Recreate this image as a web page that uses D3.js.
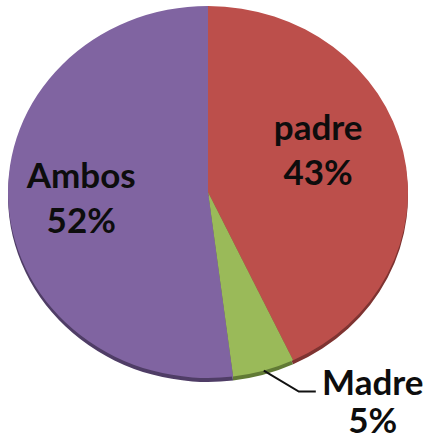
<!DOCTYPE html>
<html>
<head>
<meta charset="utf-8">
<script src="https://cdn.jsdelivr.net/npm/d3@7/dist/d3.min.js"></script>
<style>
  body { margin: 0; background: #fff; }
  text { font-family: Lato, "Noto Sans", sans-serif; font-weight: bold; fill: #0d0d0d; }
</style>
</head>
<body>
<svg id="chart" width="430" height="440"></svg>
<script>
var labels = ['padre', 'Madre', 'Ambos'];
var values = [43, 5, 52];
var colors = ['#BC4F4B', '#9ABA59', '#8064A1'];
var edgeColors = ['#7E3331', '#617A35', '#4F3D66'];

var svg = d3.select('#chart');
var cx = 208, cy = 192, r = 200, squash = 0.93;

var pie = d3.pie().sort(null).value(function(d) { return d; });
var arcs = pie(values);

var arc = d3.arc().innerRadius(0).outerRadius(r);

// rim (thickness at the bottom)
var rim = svg.append('g')
  .attr('transform', 'translate(' + cx + ',' + (cy + 4) + ') scale(1,' + squash + ')');
rim.selectAll('path')
  .data(arcs)
  .enter().append('path')
  .attr('d', arc)
  .attr('fill', function(d, i) { return edgeColors[i]; });

var g = svg.append('g')
  .attr('transform', 'translate(' + cx + ',' + cy + ') scale(1,' + squash + ')');
g.selectAll('path')
  .data(arcs)
  .enter().append('path')
  .attr('d', arc)
  .attr('fill', function(d, i) { return colors[i]; });

function pos(a, rad) {
  return [cx + rad * Math.sin(a), cy - squash * rad * Math.cos(a)];
}

// inside labels (padre, Ambos)
var inside = [{ i: 0, rad: 118, dx: -5, dy: -6 }, { i: 2, rad: 127, dx: 0, dy: 11 }];
inside.forEach(function(o) {
  var d = arcs[o.i];
  var p = pos((d.startAngle + d.endAngle) / 2, o.rad);
  var t = svg.append('text')
    .attr('text-anchor', 'middle')
    .attr('font-size', 35);
  t.append('tspan').attr('x', p[0] + o.dx).attr('y', p[1] + o.dy - 22).text(labels[o.i]);
  t.append('tspan').attr('x', p[0] + o.dx).attr('y', p[1] + o.dy + 23).text(values[o.i] + '%');
});

// outside label with leader line (Madre)
var m = arcs[1];
var mid = (m.startAngle + m.endAngle) / 2;
var p0 = pos(mid, r);
var p1 = [p0[0] + 35, p0[1] + 21];
var p2 = [p1[0] + 17, p1[1]];
svg.append('polyline')
  .attr('points', [p0, p1, p2].map(function(p) { return p.join(','); }).join(' '))
  .attr('fill', 'none')
  .attr('stroke', '#111')
  .attr('stroke-width', 2);

var mt = svg.append('text').attr('text-anchor', 'middle').attr('font-size', 35);
mt.append('tspan').attr('x', p2[0] + 57).attr('y', p2[1] + 3).text(labels[1]);
mt.append('tspan').attr('x', p2[0] + 57).attr('y', p2[1] + 41).text(values[1] + '%');
</script>
</body>
</html>
